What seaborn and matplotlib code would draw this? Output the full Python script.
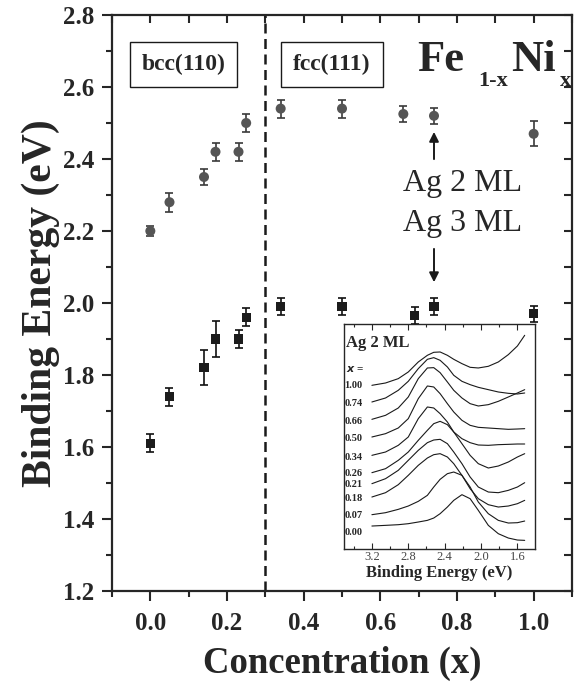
import matplotlib
matplotlib.use('Agg')
import matplotlib.pyplot as plt
from matplotlib.ticker import MultipleLocator, NullFormatter
import seaborn as sns

# Ni concentration x and Ag QW peak binding energies (eV)
conc_2ml = [0.0, 0.05, 0.14, 0.17, 0.23, 0.25, 0.34, 0.50, 0.66, 0.74, 1.0]
be_2ml = [2.20, 2.28, 2.35, 2.42, 2.42, 2.50, 2.54, 2.54, 2.525, 2.52, 2.47]
err_2ml = [0.015, 0.026, 0.023, 0.025, 0.025, 0.025, 0.025, 0.025, 0.021, 0.022, 0.035]

conc_3ml = [0.0, 0.05, 0.14, 0.17, 0.23, 0.25, 0.34, 0.50, 0.69, 0.74, 1.0]
be_3ml = [1.61, 1.74, 1.82, 1.90, 1.90, 1.96, 1.99, 1.99, 1.965, 1.99, 1.97]
err_3ml = [0.025, 0.025, 0.049, 0.05, 0.025, 0.025, 0.023, 0.023, 0.023, 0.023, 0.023]

# inset: Ag 2 ML photoemission spectra (arb. units, offset)
inset_energy = [3.20, 3.05, 2.91, 2.80, 2.69, 2.59, 2.52, 2.45, 2.37,
                2.30, 2.21, 2.12, 2.03, 1.92, 1.81, 1.70, 1.60, 1.52]
spec_labels = ['1.00', '0.74', '0.66', '0.50', '0.34', '0.26', '0.21', '0.18', '0.07', '0.00']
spec_x100 = [49.0, 49.7, 51.0, 53.0, 56.0, 58.0, 58.9, 59.0, 58.0, 56.8, 55.5, 54.4, 54.2, 54.7, 56.0, 58.2, 60.8, 64.0]
spec_x074 = [44.0, 45.2, 47.5, 50.2, 54.0, 56.8, 57.3, 56.5, 54.5, 52.0, 50.2, 49.2, 48.4, 47.7, 47.0, 46.6, 46.4, 46.7]
spec_x066 = [38.8, 40.0, 42.2, 45.5, 51.0, 54.2, 54.3, 52.8, 50.0, 47.5, 45.2, 43.5, 42.8, 43.2, 44.2, 45.5, 46.7, 47.7]
spec_x050 = [33.5, 34.5, 36.2, 39.0, 45.0, 48.8, 48.5, 46.5, 43.5, 41.0, 38.5, 37.0, 36.4, 36.2, 36.0, 35.8, 35.9, 36.0]
spec_x034 = [28.0, 29.0, 31.0, 33.5, 39.0, 42.5, 42.2, 40.5, 38.0, 35.0, 33.0, 31.8, 31.1, 31.0, 31.2, 31.3, 31.4, 31.4]
spec_x026 = [22.8, 24.0, 26.5, 29.0, 32.5, 35.5, 37.5, 38.2, 37.2, 35.0, 31.5, 28.0, 25.5, 24.2, 24.8, 26.0, 27.5, 28.5]
spec_x021 = [19.5, 21.0, 23.5, 26.5, 29.5, 31.8, 32.6, 32.8, 31.5, 29.0, 25.5, 21.5, 18.5, 17.0, 16.8, 17.5, 18.5, 19.8]
spec_x018 = [15.5, 16.8, 19.2, 22.0, 25.0, 27.2, 28.2, 28.5, 27.5, 25.5, 22.0, 18.0, 15.0, 13.2, 12.5, 12.8, 13.5, 14.5]
spec_x007 = [10.2, 10.8, 11.8, 12.8, 14.2, 16.0, 18.5, 20.8, 22.5, 23.0, 22.0, 18.5, 14.0, 10.5, 8.5, 7.7, 7.8, 8.3]
spec_x000 = [6.8, 7.0, 7.2, 7.5, 8.0, 8.5, 9.2, 10.5, 12.5, 14.5, 16.2, 15.0, 11.5, 7.0, 4.5, 3.2, 2.6, 2.5]
label_y = [49.0, 43.5, 38.0, 33.0, 27.5, 22.5, 19.2, 15.0, 10.0, 4.8]

sns.set_theme(style='ticks')
plt.rcParams['font.family'] = ['Liberation Serif', 'DejaVu Serif']
plt.rcParams['font.weight'] = 'bold'

fig = plt.figure(figsize=(5.74, 6.87), dpi=100)
ax = fig.add_axes([112 / 574, 1 - 591 / 687, 460 / 574, 576 / 687])

# markers + error bars
ax.errorbar(conc_2ml, be_2ml, yerr=err_2ml, fmt='none', ecolor='#3a3a3a',
            elinewidth=1.2, capsize=3, capthick=1.2, zorder=2)
ax.errorbar(conc_3ml, be_3ml, yerr=err_3ml, fmt='none', ecolor='#111111',
            elinewidth=1.2, capsize=3, capthick=1.2, zorder=2)
sns.scatterplot(x=conc_2ml, y=be_2ml, marker='o', s=52, color='#555555',
                edgecolor='none', ax=ax, zorder=3)
sns.scatterplot(x=conc_3ml, y=be_3ml, marker='s', s=42, color='#1c1c1c',
                edgecolor='none', ax=ax, zorder=3)

ax.axvline(0.3, color='k', lw=1.8, ls=(0, (4, 2.2)), zorder=1)

ax.set_xlim(-0.1, 1.1)
ax.set_ylim(1.2, 2.8)
ax.xaxis.set_major_locator(MultipleLocator(0.2))
ax.xaxis.set_minor_locator(MultipleLocator(0.1))
ax.yaxis.set_major_locator(MultipleLocator(0.2))
ax.yaxis.set_minor_locator(MultipleLocator(0.1))
ax.set_xticks([0.0, 0.2, 0.4, 0.6, 0.8, 1.0])
ax.set_xticklabels(['0.0', '0.2', '0.4', '0.6', '0.8', '1.0'])
ax.tick_params(which='both', direction='out', width=1.5, labelsize=18)
ax.tick_params(which='major', length=7, pad=6)
ax.tick_params(which='minor', length=4)
ax.tick_params(axis='x', which='major', pad=8)
for s in ax.spines.values():
    s.set_linewidth(1.6)
    s.set_visible(True)

# inward ticks on top and right
top = ax.secondary_xaxis('top')
top.xaxis.set_major_locator(MultipleLocator(0.1))
top.xaxis.set_major_formatter(NullFormatter())
top.tick_params(direction='in', length=6, width=1.5)
right = ax.secondary_yaxis('right')
right.yaxis.set_major_locator(MultipleLocator(0.1))
right.yaxis.set_major_formatter(NullFormatter())
right.tick_params(direction='in', length=6, width=1.5)

ax.set_xlabel('Concentration (x)', fontsize=26.5, fontweight='bold', labelpad=8)
ax.set_ylabel('Binding Energy (eV)', fontsize=30, fontweight='bold', labelpad=2)

box = dict(boxstyle='square,pad=0.5', fc='white', ec='k', lw=1.0)
ax.text(0.086, 2.6625, 'bcc(110)', ha='center', va='center', fontsize=17,
        fontweight='bold', bbox=box)
ax.text(0.474, 2.6625, 'fcc(111)', ha='center', va='center', fontsize=17,
        fontweight='bold', bbox=box)

# Fe_{1-x}Ni_x
ax.text(0.695, 2.645, 'Fe', fontsize=32, fontweight='bold', va='baseline')
ax.text(0.855, 2.603, '1-x', fontsize=16, fontweight='bold', va='baseline')
ax.text(0.94, 2.645, 'Ni', fontsize=32, fontweight='bold', va='baseline')
ax.text(1.068, 2.603, 'x', fontsize=16, fontweight='bold', va='baseline')

ax.annotate('', xy=(0.74, 2.483), xytext=(0.74, 2.392),
            arrowprops=dict(arrowstyle='-|>', color='k', lw=1.4, mutation_scale=14))
ax.annotate('', xy=(0.74, 2.05), xytext=(0.74, 2.158),
            arrowprops=dict(arrowstyle='-|>', color='k', lw=1.4, mutation_scale=14))
ax.text(0.815, 2.333, 'Ag 2 ML', ha='center', va='center', fontsize=23, fontweight='normal')
ax.text(0.815, 2.222, 'Ag 3 ML', ha='center', va='center', fontsize=23, fontweight='normal')

# inset with spectra
axin = fig.add_axes([343.7 / 574, 1 - 548.7 / 687, 191 / 574, 224.4 / 687])
spectra = [spec_x100, spec_x074, spec_x066, spec_x050, spec_x034,
           spec_x026, spec_x021, spec_x018, spec_x007, spec_x000]
for spec in spectra:
    sns.lineplot(x=inset_energy, y=spec, ax=axin, color='k', lw=0.8,
                 estimator=None, sort=False)
for lab, yy in zip(spec_labels, label_y):
    axin.text(3.505, yy, lab, fontsize=7.5, fontweight='bold', va='center', ha='left')
axin.text(3.48, 61.8, 'Ag 2 ML', fontsize=12, fontweight='bold', va='center', ha='left')
axin.text(3.49, 54.0, r'$x$ =', fontsize=8, va='center', ha='left')
axin.set_xlim(3.51, 1.41)
axin.set_ylim(0, 67.3)
axin.xaxis.set_major_locator(MultipleLocator(0.4))
axin.xaxis.set_minor_locator(MultipleLocator(0.2))
axin.set_xticks([3.2, 2.8, 2.4, 2.0, 1.6])
axin.set_xticklabels(['3.2', '2.8', '2.4', '2.0', '1.6'])
axin.set_yticks([])
axin.tick_params(which='both', direction='in', top=True, width=0.8,
                 labelsize=9, pad=2, labelcolor='#444444')
axin.tick_params(which='major', length=4)
axin.tick_params(which='minor', length=2)
for lbl in axin.get_xticklabels():
    lbl.set_fontweight('normal')
for s in axin.spines.values():
    s.set_linewidth(1.0)
    s.set_visible(True)
axin.set_xlabel('Binding Energy (eV)', fontsize=12, fontweight='bold', labelpad=1)
axin.set_ylabel('')

fig.savefig('out.png', dpi=100)
